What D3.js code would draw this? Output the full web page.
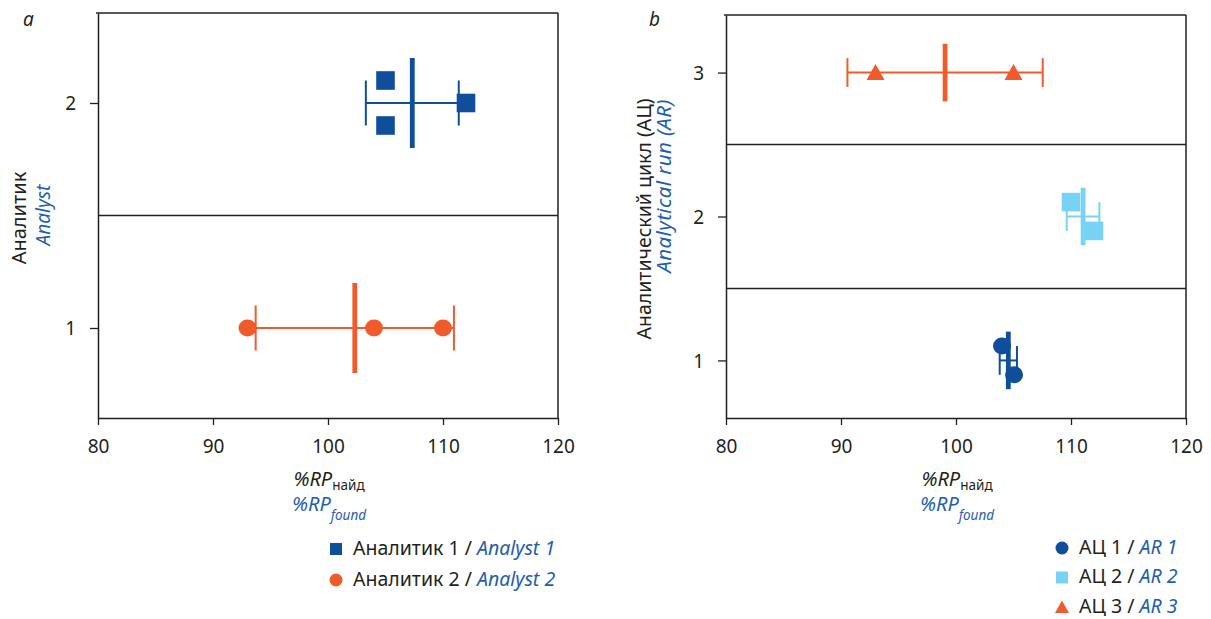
<!DOCTYPE html>
<html>
<head>
<meta charset="utf-8">
<script src="https://cdn.jsdelivr.net/npm/d3@7"></script>
<style>
  html, body { margin: 0; padding: 0; background: #fff; }
  svg { display: block; font-family: "Noto Sans", sans-serif; }
</style>
</head>
<body>
<svg id="chart" width="1211" height="619"></svg>
<script>
// ---------- DATA ----------
const xTicks = [80, 90, 100, 110, 120];

// Panel a
const panelA_yTicks = [1, 2];
const analyst1_x = [105, 105, 112];
const analyst1_y = [2.1, 1.9, 2.0];
const analyst2_x = [93, 104, 110];
const analyst2_y = [1, 1, 1];
const panelA_groupY = [2, 1];
const panelA_mean = [107.33, 102.33];
const panelA_sd = [4.04, 8.62];

// Panel b
const panelB_yTicks = [1, 2, 3];
const ar1_x = [104.0, 105.05];
const ar1_y = [1.1, 0.9];
const ar2_x = [110, 112];
const ar2_y = [2.1, 1.9];
const ar3_x = [93, 105];
const ar3_y = [3, 3];
const panelB_groupY = [1, 2, 3];
const panelB_mean = [104.55, 111.05, 99.05];
const panelB_sd = [0.75, 1.42, 8.49];

// ---------- STYLE ----------
const C_DARK = "#0e4e9a";
const C_ORANGE = "#f15a2b";
const C_LIGHT = "#78d2f6";
const C_TEXT = "#231f20";
const C_BLUE_TEXT = "#1f5eae";

const svg = d3.select("#chart");

function symbolPath(shape) {
  if (shape === "square") return "M-9.3,-9.3H9.3V9.3H-9.3Z";
  if (shape === "circle") return "M-9,0A9,8.5 0 1,0 9,0A9,8.5 0 1,0 -9,0Z";
  return "M0,-8.5L9,7.5L-9,7.5Z";
}
function legendPath(shape) {
  if (shape === "square") return "M-6,-6H6V6H-6Z";
  if (shape === "circle") return "M-6.5,0A6.5,6.5 0 1,0 6.5,0A6.5,6.5 0 1,0 -6.5,0Z";
  return "M0,-6.5L7,6L-7,6Z";
}

function drawPanel(opt) {
  const g = svg.append("g");
  const x = d3.scaleLinear().domain([80, 120]).range([opt.left, opt.right]);
  const y = d3.scaleLinear().domain(opt.yDomain).range([opt.bottom, opt.top]);

  // frame: top and right lines
  g.append("line").attr("x1", opt.left - 2).attr("x2", opt.right).attr("y1", opt.top).attr("y2", opt.top)
    .attr("stroke", C_TEXT).attr("stroke-width", 1.5);
  g.append("line").attr("x1", opt.right).attr("x2", opt.right).attr("y1", opt.top).attr("y2", opt.bottom)
    .attr("stroke", C_TEXT).attr("stroke-width", 1.5);
  // dividers
  opt.dividers.forEach(d => {
    g.append("line").attr("x1", opt.left).attr("x2", opt.right).attr("y1", y(d)).attr("y2", y(d))
      .attr("stroke", C_TEXT).attr("stroke-width", 1.5);
  });

  // axes
  const xAxis = g.append("g").attr("transform", `translate(0,${opt.bottom})`)
    .call(d3.axisBottom(x).tickValues(xTicks).tickSize(7).tickPadding(11).tickSizeOuter(0));
  const yAxis = g.append("g").attr("transform", `translate(${opt.left},0)`)
    .call(d3.axisLeft(y).tickValues(opt.yTicks).tickFormat(d3.format("d")).tickSize(8).tickPadding(14).tickSizeOuter(0));
  [xAxis, yAxis].forEach(a => {
    a.select(".domain").attr("stroke", C_TEXT).attr("stroke-width", 1.5);
    a.selectAll(".tick line").attr("stroke", C_TEXT).attr("stroke-width", 1.3);
    a.selectAll(".tick text").attr("fill", C_TEXT).style("font-size", "19px")
      .style("font-family", '"Noto Sans", sans-serif');
  });
  xAxis.selectAll(".tick text").attr("dy", "0.9em");
  yAxis.selectAll(".tick text").attr("dy", "0.36em");

  // error bars + means
  opt.groups.forEach(gr => {
    const yc = y(gr.y);
    const capH = Math.abs(y(gr.y + 0.1) - yc);
    const meanH = Math.abs(y(gr.y + 0.2) - yc);
    const lo = x(gr.mean - gr.sd), hi = x(gr.mean + gr.sd);
    g.append("line").attr("x1", lo).attr("x2", hi).attr("y1", yc).attr("y2", yc)
      .attr("stroke", gr.color).attr("stroke-width", 2);
    [lo, hi].forEach(cx => {
      g.append("line").attr("x1", cx).attr("x2", cx).attr("y1", yc - capH).attr("y2", yc + capH)
        .attr("stroke", gr.color).attr("stroke-width", 2);
    });
    g.append("line").attr("x1", x(gr.mean)).attr("x2", x(gr.mean)).attr("y1", yc - meanH).attr("y2", yc + meanH)
      .attr("stroke", gr.color).attr("stroke-width", 4.8);
  });

  // points
  opt.series.forEach(s => {
    g.selectAll(null).data(s.xs.map((v, i) => [v, s.ys[i]])).enter()
      .append("path")
      .attr("d", symbolPath(s.shape))
      .attr("transform", d => `translate(${x(d[0])},${y(d[1])})`)
      .attr("fill", s.color);
  });

  // panel letter
  g.append("text").attr("x", opt.letterX).attr("y", 26).attr("fill", C_TEXT)
    .style("font-size", "19px").style("font-style", "italic").text(opt.letter);

  // y-axis title
  const cx = (opt.left + opt.right) / 2;
  g.append("text").attr("transform", `translate(${opt.yTitle1X},${opt.yTitleY}) rotate(-90)`)
    .attr("text-anchor", "middle").attr("fill", C_TEXT).style("font-size", opt.yTitle1Size).text(opt.yTitle1);
  g.append("text").attr("transform", `translate(${opt.yTitle2X},${opt.yTitleY2}) rotate(-90)`)
    .attr("text-anchor", "middle").attr("fill", C_BLUE_TEXT).style("font-size", opt.yTitle2Size)
    .style("letter-spacing", opt.yTitle2Spacing)
    .style("font-style", "italic").text(opt.yTitle2);

  // x-axis title
  const t1 = g.append("text").attr("x", cx + 1).attr("y", 486).attr("text-anchor", "middle").attr("fill", C_TEXT);
  t1.append("tspan").style("font-size", "20px").style("font-style", "italic").text("%RP");
  t1.append("tspan").attr("dy", 4).style("font-size", "13.5px").text("найд");
  const t2 = g.append("text").attr("x", cx + 1).attr("y", 511).attr("text-anchor", "middle").attr("fill", C_BLUE_TEXT)
    .style("font-style", "italic");
  t2.append("tspan").style("font-size", "20px").text("%RP");
  t2.append("tspan").attr("dy", 9).style("font-size", "13.5px").text("found");

  // legend
  opt.legend.forEach((l, i) => {
    const ly = opt.legendY + i * opt.legendStep;
    g.append("path").attr("d", legendPath(l.shape)).attr("transform", `translate(${opt.legendX},${ly})`)
      .attr("fill", l.color);
    const t = g.append("text").attr("x", opt.legendX + 17).attr("y", ly).attr("dy", "0.3em")
      .style("font-size", "19.5px").attr("fill", C_TEXT);
    t.append("tspan").text(l.ru + " / ");
    t.append("tspan").attr("fill", C_BLUE_TEXT).style("font-style", "italic").text(l.en);
  });
}

drawPanel({
  left: 98, right: 558, top: 13, bottom: 418,
  yDomain: [0.6, 2.4], yTicks: panelA_yTicks, dividers: [1.5],
  letter: "a", letterX: 23,
  yTitle1: "Аналитик", yTitle1X: 26, yTitleY: 218, yTitle1Size: "20px",
  yTitle2: "Analyst", yTitle2X: 50, yTitleY2: 215, yTitle2Size: "19px", yTitle2Spacing: "0px",
  groups: panelA_groupY.map((gy, i) => ({ y: gy, mean: panelA_mean[i], sd: panelA_sd[i], color: [C_DARK, C_ORANGE][i] })),
  series: [
    { xs: analyst1_x, ys: analyst1_y, shape: "square", color: C_DARK },
    { xs: analyst2_x, ys: analyst2_y, shape: "circle", color: C_ORANGE }
  ],
  legendX: 336, legendY: 549, legendStep: 31,
  legend: [
    { shape: "square", color: C_DARK, ru: "Аналитик 1", en: "Analyst 1" },
    { shape: "circle", color: C_ORANGE, ru: "Аналитик 2", en: "Analyst 2" }
  ]
});

drawPanel({
  left: 726, right: 1186, top: 15, bottom: 418,
  yDomain: [0.6, 3.4], yTicks: panelB_yTicks, dividers: [1.5, 2.5],
  letter: "b", letterX: 649,
  yTitle1: "Аналитический цикл (АЦ)", yTitle1X: 651, yTitleY: 219, yTitle1Size: "19.5px",
  yTitle2: "Analytical run (AR)", yTitle2X: 671, yTitleY2: 186, yTitle2Size: "20.5px", yTitle2Spacing: "0.4px",
  groups: panelB_groupY.map((gy, i) => ({ y: gy, mean: panelB_mean[i], sd: panelB_sd[i], color: [C_DARK, C_LIGHT, C_ORANGE][i] })),
  series: [
    { xs: ar1_x, ys: ar1_y, shape: "circle", color: C_DARK },
    { xs: ar2_x, ys: ar2_y, shape: "square", color: C_LIGHT },
    { xs: ar3_x, ys: ar3_y, shape: "triangle", color: C_ORANGE }
  ],
  legendX: 1062, legendY: 548, legendStep: 29.5,
  legend: [
    { shape: "circle", color: C_DARK, ru: "АЦ 1", en: "AR 1" },
    { shape: "square", color: C_LIGHT, ru: "АЦ 2", en: "AR 2" },
    { shape: "triangle", color: C_ORANGE, ru: "АЦ 3", en: "AR 3" }
  ]
});
</script>
</body>
</html>
